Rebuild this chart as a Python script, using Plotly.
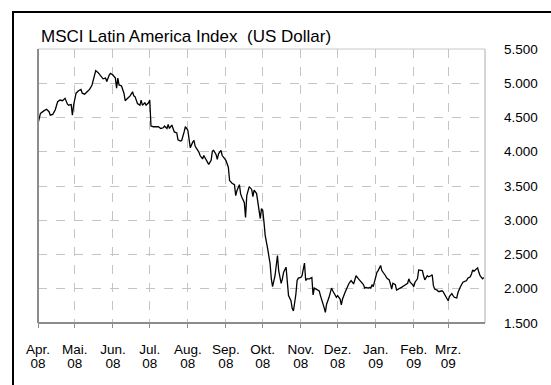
import plotly.graph_objects as go

# ---------------- data ----------------
dates = [
    "2008-04-01", "2008-04-03", "2008-04-06", "2008-04-08", "2008-04-10", "2008-04-11", "2008-04-13",
    "2008-04-15", "2008-04-17", "2008-04-19", "2008-04-21", "2008-04-23", "2008-04-25", "2008-04-26",
    "2008-04-28", "2008-04-29", "2008-04-30", "2008-05-02", "2008-05-04", "2008-05-06", "2008-05-07",
    "2008-05-09", "2008-05-11", "2008-05-13", "2008-05-15", "2008-05-17", "2008-05-18", "2008-05-20",
    "2008-05-22", "2008-05-24", "2008-05-26", "2008-05-27", "2008-05-29", "2008-05-30", "2008-06-01",
    "2008-06-03", "2008-06-04", "2008-06-05", "2008-06-06", "2008-06-08", "2008-06-10", "2008-06-11",
    "2008-06-13", "2008-06-15", "2008-06-17", "2008-06-18", "2008-06-19", "2008-06-21", "2008-06-23",
    "2008-06-24", "2008-06-25", "2008-06-27", "2008-06-28", "2008-06-30", "2008-07-01", "2008-07-02",
    "2008-07-04", "2008-07-06", "2008-07-08", "2008-07-10", "2008-07-12", "2008-07-13", "2008-07-15",
    "2008-07-16", "2008-07-17", "2008-07-19", "2008-07-20", "2008-07-21", "2008-07-23", "2008-07-24",
    "2008-07-26", "2008-07-27", "2008-07-29", "2008-07-30", "2008-08-01", "2008-08-02", "2008-08-03",
    "2008-08-05", "2008-08-06", "2008-08-07", "2008-08-09", "2008-08-10", "2008-08-11", "2008-08-13",
    "2008-08-14", "2008-08-16", "2008-08-17", "2008-08-18", "2008-08-20", "2008-08-21", "2008-08-22",
    "2008-08-24", "2008-08-25", "2008-08-26", "2008-08-28", "2008-08-29", "2008-08-30", "2008-09-01",
    "2008-09-03", "2008-09-04", "2008-09-06", "2008-09-08", "2008-09-09", "2008-09-10", "2008-09-12",
    "2008-09-13", "2008-09-14", "2008-09-16", "2008-09-17", "2008-09-18", "2008-09-20",
    "2008-09-22", "2008-09-23", "2008-09-24", "2008-09-26", "2008-09-27", "2008-09-29", "2008-09-30",
    "2008-10-01", "2008-10-02", "2008-10-03", "2008-10-05", "2008-10-07", "2008-10-08", "2008-10-09",
    "2008-10-11", "2008-10-12", "2008-10-13", "2008-10-14", "2008-10-16", "2008-10-17", "2008-10-18",
    "2008-10-20", "2008-10-21", "2008-10-22", "2008-10-24", "2008-10-25", "2008-10-26", "2008-10-28",
    "2008-10-29", "2008-10-30", "2008-11-01", "2008-11-02", "2008-11-04", "2008-11-05", "2008-11-06",
    "2008-11-08", "2008-11-10", "2008-11-11", "2008-11-12", "2008-11-14", "2008-11-16", "2008-11-17",
    "2008-11-19", "2008-11-20", "2008-11-21", "2008-11-22", "2008-11-24", "2008-11-26", "2008-11-27",
    "2008-11-29", "2008-11-30", "2008-12-01", "2008-12-03", "2008-12-04", "2008-12-05", "2008-12-07",
    "2008-12-08", "2008-12-10", "2008-12-11", "2008-12-12", "2008-12-14", "2008-12-15", "2008-12-16",
    "2008-12-18", "2008-12-19", "2008-12-20", "2008-12-22", "2008-12-23", "2008-12-24", "2008-12-26",
    "2008-12-27", "2008-12-28", "2008-12-29", "2008-12-30", "2009-01-01", "2009-01-02", "2009-01-03",
    "2009-01-05", "2009-01-06", "2009-01-08", "2009-01-09", "2009-01-10", "2009-01-12", "2009-01-13",
    "2009-01-14", "2009-01-15", "2009-01-16", "2009-01-17", "2009-01-18", "2009-01-20", "2009-01-21",
    "2009-01-22", "2009-01-24", "2009-01-25", "2009-01-27", "2009-01-28", "2009-01-29", "2009-01-31",
    "2009-02-01", "2009-02-02", "2009-02-04", "2009-02-05", "2009-02-07", "2009-02-08", "2009-02-09",
    "2009-02-10", "2009-02-12", "2009-02-13", "2009-02-15", "2009-02-16", "2009-02-17", "2009-02-18",
    "2009-02-20", "2009-02-21", "2009-02-22", "2009-02-24", "2009-02-25", "2009-02-26", "2009-02-28",
    "2009-03-01", "2009-03-02", "2009-03-04", "2009-03-05", "2009-03-06", "2009-03-08", "2009-03-09",
    "2009-03-11", "2009-03-12", "2009-03-13", "2009-03-15", "2009-03-16", "2009-03-17", "2009-03-19",
    "2009-03-20", "2009-03-21", "2009-03-22", "2009-03-24", "2009-03-25", "2009-03-26", "2009-03-27",
    "2009-03-29", "2009-03-30",
]

index_values = [
    4410, 4560, 4600, 4620, 4585, 4535, 4545,
    4610, 4730, 4755, 4745, 4780, 4695, 4680,
    4690, 4535, 4680, 4855, 4890, 4910, 4855,
    4840, 4875, 4910, 4975, 5120, 5185, 5155,
    5110, 5065, 5075, 5025, 5120, 5145, 5120,
    5075, 4930, 5075, 4975, 4960, 4855, 4745,
    4780, 4815, 4875, 4815, 4805, 4705, 4680,
    4755, 4680, 4715, 4680, 4715, 4755, 4375,
    4365, 4365, 4365, 4340, 4350, 4375, 4340,
    4400, 4340, 4390, 4325, 4290, 4275, 4175,
    4155, 4165, 4290, 4365, 4315, 4190, 4060,
    4140, 4165, 4080, 4030, 3995, 3945, 3895,
    3945, 3875, 3850, 3815, 3875, 4010, 4020,
    3960, 3890, 3970, 4020, 3945, 3920, 3875,
    3775, 3580, 3540, 3520, 3360, 3430, 3520,
    3385, 3335, 3260, 3040, 3360, 3490,
    3450, 3345, 3440, 3390, 3245, 3025, 3170,
    3145, 2975, 2780, 2585, 2365, 2145, 2030,
    2190, 2365, 2485, 2265, 2080, 2145, 2240,
    2315, 2120, 1900, 1825, 1715, 1675, 1920,
    2120, 2155, 2165, 2190, 2375, 2120, 2145,
    2145, 2165, 1910, 2010, 1995, 1970, 1900,
    1800, 1725, 1655, 1775, 1875, 2010, 1970,
    1910, 1875, 1900, 1850, 1765, 1850, 1945,
    1995, 2070, 2095, 2120, 2070, 2145, 2190,
    2145, 2120, 2095, 2060, 2010, 2020, 2010,
    2020, 2010, 2059, 2030, 2190, 2240, 2265,
    2340, 2265, 2225, 2190, 2155, 2130, 2070,
    1995, 2080, 2070, 2060, 1980, 1995, 2010,
    2020, 2045, 2060, 2080, 2145, 2095, 2060,
    2030, 2095, 2145, 2275, 2275, 2265, 2190,
    2130, 2190, 2175, 2190, 2205, 2045, 1995,
    1980, 1960, 1960, 1970, 1955, 1920, 1850,
    1825, 1885, 1930, 1900, 1875, 1865, 1945,
    2030, 2070, 2095, 2110, 2120, 2155, 2175,
    2215, 2275, 2255, 2290, 2305, 2240, 2190,
    2145, 2165,
]

month_ticks = ["2008-04-01", "2008-05-01", "2008-06-01", "2008-07-01", "2008-08-01", "2008-09-01",
               "2008-10-01", "2008-11-01", "2008-12-01", "2009-01-01", "2009-02-01", "2009-03-01"]
month_labels = ["Apr.", "Mai.", "Jun.", "Jul.", "Aug.", "Sep.",
                "Okt.", "Nov.", "Dez.", "Jan.", "Feb.", "Mrz."]
year_labels = ["08", "08", "08", "08", "08", "08", "08", "08", "08", "09", "09", "09"]
y_ticks = [1500, 2000, 2500, 3000, 3500, 4000, 4500, 5000, 5500]
y_tick_labels = ["1.500", "2.000", "2.500", "3.000", "3.500", "4.000", "4.500", "5.000", "5.500"]
x_range = ["2008-04-01", "2009-03-31"]
title_text = "MSCI Latin America Index  (US Dollar)"

# ---------------- layout constants ----------------
W, H = 551, 385
ML, MR, MT, MB = 38, 66, 49, 62
PW, PH = W - ML - MR, H - MT - MB


def px_x(px):
    return (px - ML) / PW


def px_y(py):
    return (H - MB - py) / PH


FONT = "Arial, 'Liberation Sans', sans-serif"
GRID = "#c4c4c4"
TICKFONT = dict(family=FONT, size=13.5, color="black")

fig = go.Figure()
fig.add_trace(go.Scatter(x=dates, y=index_values, mode="lines",
                         line=dict(color="black", width=1.3), hoverinfo="skip"))
# invisible helper trace bound to the second (year-label) x axis
fig.add_trace(go.Scatter(x=[dates[0]], y=[index_values[0]], xaxis="x2", mode="lines",
                         line=dict(color="rgba(0,0,0,0)"), hoverinfo="skip", showlegend=False))

fig.update_layout(
    width=W, height=H, autosize=False,
    margin=dict(l=ML, r=MR, t=MT, b=MB, pad=0),
    paper_bgcolor="white", plot_bgcolor="white",
    showlegend=False,
    font=dict(family=FONT, size=13.5, color="black"),
    xaxis=dict(
        type="date", range=x_range,
        tickmode="array", tickvals=month_ticks, ticktext=month_labels,
        showgrid=True, gridcolor=GRID, griddash="dash", gridwidth=1,
        ticks="outside", ticklen=4, tickcolor="#8c8c8c", tickwidth=1,
        ticklabelstandoff=10,
        showline=False, zeroline=False,
        tickfont=TICKFONT,
    ),
    xaxis2=dict(
        type="date", range=x_range, overlaying="x", side="bottom", anchor="y",
        tickmode="array", tickvals=month_ticks, ticktext=year_labels,
        showgrid=False, ticks="outside", ticklen=4, tickcolor="rgba(0,0,0,0)",
        ticklabelstandoff=24,
        showline=False, zeroline=False,
        tickfont=TICKFONT,
    ),
    yaxis=dict(
        side="right", range=[1500, 5500],
        tickmode="array", tickvals=y_ticks, ticktext=y_tick_labels,
        showgrid=True, gridcolor=GRID, griddash="dash", gridwidth=1,
        ticks="", ticklabelstandoff=18,
        showline=False, zeroline=False,
        tickfont=TICKFONT,
    ),
    shapes=[
        # top and right plot border (light)
        dict(type="line", xref="paper", yref="paper", x0=0, x1=1, y0=1, y1=1,
             line=dict(color="#c8c8c8", width=1)),
        dict(type="line", xref="paper", yref="paper", x0=1, x1=1, y0=0, y1=1,
             line=dict(color="#c8c8c8", width=1.5)),
        # left and bottom plot border (darker)
        dict(type="line", xref="paper", yref="paper", x0=0, x1=0, y0=0, y1=1,
             line=dict(color="#8c8c8c", width=2)),
        dict(type="line", xref="paper", yref="paper", x0=0, x1=1, y0=0, y1=0,
             line=dict(color="#8c8c8c", width=2)),
        # outer black frame (left and top)
        dict(type="line", xref="paper", yref="paper", x0=px_x(13), x1=px_x(13),
             y0=px_y(H + 5), y1=px_y(12), line=dict(color="black", width=2)),
        dict(type="line", xref="paper", yref="paper", x0=px_x(12), x1=px_x(W + 5),
             y0=px_y(12), y1=px_y(12), line=dict(color="black", width=2)),
    ],
    annotations=[
        dict(text=title_text, xref="paper", yref="paper", x=px_x(39), y=px_y(48),
             xanchor="left", yanchor="bottom", showarrow=False,
             font=dict(family=FONT, size=17, color="black")),
    ],
)

fig.write_html("out.html")
